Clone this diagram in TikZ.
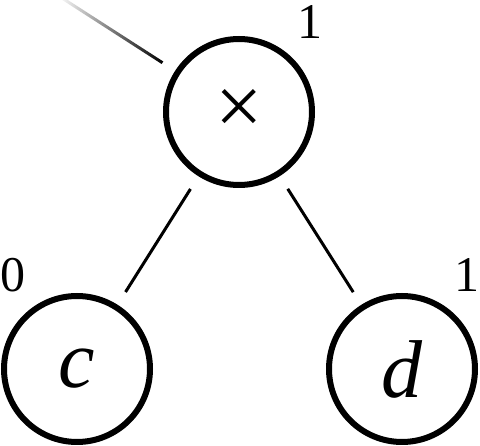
\documentclass[tikz,border=0pt]{standalone}
\usepackage{fontspec}
\setmainfont{Liberation Serif}
\usetikzlibrary{calc}
\begin{document}
\begin{tikzpicture}[x=1pt,y=-1pt,
  opnode/.style={circle, draw, line width=6pt, minimum size=146pt, inner sep=0pt},
  edgeline/.style={line width=3pt, shorten <=15pt, shorten >=15pt},
  lbl/.style={font=\fontsize{50}{60}\selectfont, inner sep=0pt}]
\useasboundingbox (0,0) rectangle (480,446);
\node[opnode, font=\fontsize{84}{90}\selectfont] (m) at (239,112) {×};
\node[opnode, font=\fontsize{82}{90}\selectfont] (c) at (77,369) {\textit{c}};
\node[opnode, font=\fontsize{82}{90}\selectfont] (d) at (402,369) {\textit{d}};
\node[lbl] (lm) at (310,22) {1};
\node[lbl] (lc) at (13,275) {0};
\node[lbl] (ld) at (467,275) {1};
\coordinate (in) at (58,-4.5);
\coordinate (a0) at ($(m.center)!91pt!(in)$);
\draw[edgeline] (m) -- (c);
\draw[edgeline] (m) -- (d);
\shade[left color=white, right color=black]
  ($(a0)!1.5pt!90:(in)$) -- ($(in)!1.5pt!-90:(a0)$) --
  ($(in)!1.5pt!90:(a0)$) -- ($(a0)!1.5pt!-90:(in)$) -- cycle;
\end{tikzpicture}
\end{document}
